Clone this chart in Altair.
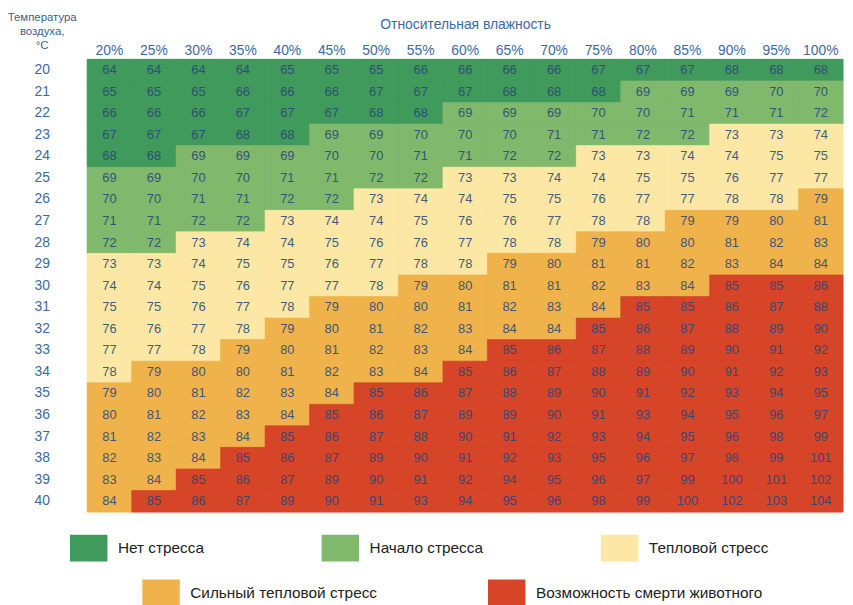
import altair as alt
import pandas as pd

humidity = ["20%", "25%", "30%", "35%", "40%", "45%", "50%", "55%", "60%",
            "65%", "70%", "75%", "80%", "85%", "90%", "95%", "100%"]
temps = [str(t) for t in range(20, 41)]

thi = [
    [64, 64, 64, 64, 65, 65, 65, 66, 66, 66, 66, 67, 67, 67, 68, 68, 68],
    [65, 65, 65, 66, 66, 66, 67, 67, 67, 68, 68, 68, 69, 69, 69, 70, 70],
    [66, 66, 66, 67, 67, 67, 68, 68, 69, 69, 69, 70, 70, 71, 71, 71, 72],
    [67, 67, 67, 68, 68, 69, 69, 70, 70, 70, 71, 71, 72, 72, 73, 73, 74],
    [68, 68, 69, 69, 69, 70, 70, 71, 71, 72, 72, 73, 73, 74, 74, 75, 75],
    [69, 69, 70, 70, 71, 71, 72, 72, 73, 73, 74, 74, 75, 75, 76, 77, 77],
    [70, 70, 71, 71, 72, 72, 73, 74, 74, 75, 75, 76, 77, 77, 78, 78, 79],
    [71, 71, 72, 72, 73, 74, 74, 75, 76, 76, 77, 78, 78, 79, 79, 80, 81],
    [72, 72, 73, 74, 74, 75, 76, 76, 77, 78, 78, 79, 80, 80, 81, 82, 83],
    [73, 73, 74, 75, 75, 76, 77, 78, 78, 79, 80, 81, 81, 82, 83, 84, 84],
    [74, 74, 75, 76, 77, 77, 78, 79, 80, 81, 81, 82, 83, 84, 85, 85, 86],
    [75, 75, 76, 77, 78, 79, 80, 80, 81, 82, 83, 84, 85, 85, 86, 87, 88],
    [76, 76, 77, 78, 79, 80, 81, 82, 83, 84, 84, 85, 86, 87, 88, 89, 90],
    [77, 77, 78, 79, 80, 81, 82, 83, 84, 85, 86, 87, 88, 89, 90, 91, 92],
    [78, 79, 80, 80, 81, 82, 83, 84, 85, 86, 87, 88, 89, 90, 91, 92, 93],
    [79, 80, 81, 82, 83, 84, 85, 86, 87, 88, 89, 90, 91, 92, 93, 94, 95],
    [80, 81, 82, 83, 84, 85, 86, 87, 89, 89, 90, 91, 93, 94, 95, 96, 97],
    [81, 82, 83, 84, 85, 86, 87, 88, 90, 91, 92, 93, 94, 95, 96, 98, 99],
    [82, 83, 84, 85, 86, 87, 89, 90, 91, 92, 93, 95, 96, 97, 98, 99, 101],
    [83, 84, 85, 86, 87, 89, 90, 91, 92, 94, 95, 96, 97, 99, 100, 101, 102],
    [84, 85, 86, 87, 89, 90, 91, 93, 94, 95, 96, 98, 99, 100, 102, 103, 104],
]

categories = ["Нет стресса", "Начало стресса", "Тепловой стресс",
              "Сильный тепловой стресс", "Возможность смерти животного"]
cat_colors = ["#409a5b", "#80b86c", "#fce8a4", "#f0b34c", "#d64528"]
upper_bounds = [68, 72, 78, 84]


def category(v):
    for i, b in enumerate(upper_bounds):
        if v <= b:
            return categories[i]
    return categories[-1]


rows = []
for ti, t in enumerate(temps):
    for hi, h in enumerate(humidity):
        v = thi[ti][hi]
        rows.append({"temp": t, "hum": h, "value": v, "cat": category(v)})
df = pd.DataFrame(rows)

FONT = "Liberation Sans"
rect_path = "M-1.4,-1H1.4V1H-1.4Z"

color_scale = alt.Scale(domain=categories, range=cat_colors)

base = alt.Chart(df).encode(
    x=alt.X("hum:O", sort=humidity,
            scale=alt.Scale(paddingInner=0, paddingOuter=0),
            axis=alt.Axis(orient="top", title="Относительная влажность",
                          titlePadding=12, labelPadding=2, labelAngle=0,
                          titleFontWeight="normal", titleFontSize=14,
                          titleColor="#3b69a3", titleFont=FONT)),
    y=alt.Y("temp:O", sort=temps,
            scale=alt.Scale(paddingInner=0, paddingOuter=0),
            axis=alt.Axis(title=["Температура", "воздуха,", "°C"],
                          titleAngle=0, titleAlign="center", titleBaseline="top",
                          titleX=-46, titleY=-48, titleLineHeight=14,
                          titleFontSize=11.5, titleFontWeight="normal",
                          titleColor="#3b5f92", titleFont=FONT,
                          labelAlign="center", labelPadding=46)),
)


def legend(values, x, y, pad):
    return alt.Legend(values=values, orient="none", legendX=x, legendY=y,
                      direction="horizontal", columns=len(values),
                      columnPadding=pad, title=None, padding=0,
                      symbolType=rect_path, symbolSize=729,
                      symbolStrokeWidth=0, symbolOpacity=1,
                      labelOffset=16, labelFontSize=15.5, labelFont=FONT,
                      labelColor="#222222", labelLimit=400)


rects1 = base.mark_rect(strokeWidth=0.6).encode(
    color=alt.Color("cat:N", scale=color_scale,
                    legend=legend(categories[:3], -12, 480, 118)),
    stroke=alt.Stroke("cat:N", scale=color_scale, legend=None),
)
rects2 = base.mark_rect(strokeWidth=0.6).encode(
    color=alt.Color("cat:N", scale=color_scale,
                    legend=legend(categories[3:], 61, 525, 111)),
    stroke=alt.Stroke("cat:N", scale=color_scale, legend=None),
)
labels = base.mark_text(fontSize=13, font=FONT, color="#2a4878", opacity=0.88).encode(
    text="value:Q"
)

chart = (
    alt.layer(rects1, rects2, labels)
    .resolve_scale(color="independent", stroke="independent")
    .properties(width=763, height=457,
                autosize=alt.AutoSizeParams(type="none"),
                padding={"left": 80, "top": 49, "right": 2, "bottom": 91})
    .configure_view(stroke=None)
    .configure_axis(domain=False, ticks=False, grid=False,
                    labelFontSize=14, labelFont=FONT, labelColor="#3b69a3")
)

chart.save("out.html", embed_options={"renderer": "svg", "actions": False})
